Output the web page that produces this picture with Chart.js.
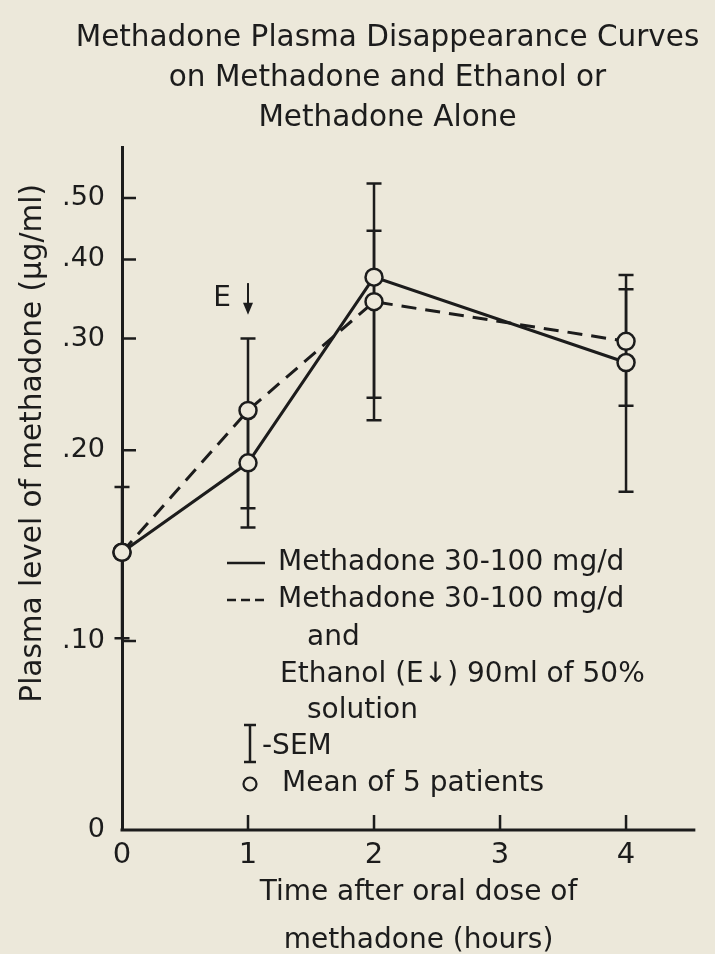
<!DOCTYPE html>
<html>
<head>
<meta charset="utf-8">
<script src="https://cdn.jsdelivr.net/npm/chart.js@4.4.1/dist/chart.umd.min.js"></script>
<style>
  html, body { margin: 0; padding: 0; background: #ece8da; }
  #wrap { width: 715px; height: 954px; }
</style>
</head>
<body>
<div id="wrap"><canvas id="chart"></canvas></div>
<script>
// hours after the oral dose
const hours = [0, 1, 2, 4];
// methadone alone (solid line), mean and SEM in ug/ml
const aloneMean = [0.138, 0.191, 0.375, 0.275];
const aloneSem = [null, 0.040, 0.152, 0.103];
// methadone + ethanol (dashed line)
const ethanolMean = [0.138, 0.231, 0.343, 0.297];
const ethanolSem = [0.037, 0.069, 0.101, 0.062];

const yTicks = [0.1, 0.2, 0.3, 0.4, 0.5];
const yTickLabels = ['.10', '.20', '.30', '.40', '.50'];
const xTicks = [0, 1, 2, 3, 4];
// the log axis is cut off here and labelled "0"
const yMin = 0.0503;
const yMax = 0.601;
// the drawn time axis stops a bit past 4 h
const xAxisEnd = 4.55;
const xMax = 4.706;
// ethanol given at 1 h (E arrow), drawn between these levels
const ethanolArrow = { hour: 1, from: 0.367, to: 0.327 };

const INK = '#1c1c1c';
const PAPER = '#ece8da';
const FONT = '"DejaVu Sans", sans-serif';

const toPoints = (ys) => ys.map((v, i) => ({ x: hours[i], y: v }));

const errorBars = {
    id: 'errorBars',
    beforeDatasetsDraw(chart) {
        const { ctx, scales: { x, y } } = chart;
        ctx.save();
        ctx.strokeStyle = INK;
        ctx.lineWidth = 2.5;
        chart.data.datasets.forEach(ds => {
            ds.sem.forEach((s, i) => {
                if (s == null) return;
                const m = ds.data[i].y;
                const px = x.getPixelForValue(ds.data[i].x);
                const top = y.getPixelForValue(m + s);
                const bot = y.getPixelForValue(m - s);
                ctx.beginPath();
                ctx.moveTo(px, top); ctx.lineTo(px, bot);
                ctx.moveTo(px - 7.5, top); ctx.lineTo(px + 7.5, top);
                ctx.moveTo(px - 7.5, bot); ctx.lineTo(px + 7.5, bot);
                ctx.stroke();
            });
        });
        ctx.restore();
    }
};

// time axis line, inward tick marks and the E arrow
const axisMarks = {
    id: 'axisMarks',
    afterDraw(chart) {
        const { ctx, chartArea, scales: { x, y } } = chart;
        ctx.save();
        ctx.strokeStyle = INK;
        ctx.lineWidth = 3;
        ctx.beginPath();
        ctx.moveTo(x.getPixelForValue(0) - 1.5, chartArea.bottom);
        ctx.lineTo(x.getPixelForValue(xAxisEnd), chartArea.bottom);
        ctx.stroke();

        ctx.lineWidth = 2.5;
        ctx.beginPath();
        yTicks.forEach(v => {
            const py = y.getPixelForValue(v);
            ctx.moveTo(chartArea.left, py);
            ctx.lineTo(chartArea.left + 14, py);
        });
        xTicks.slice(1).forEach(v => {
            const px = x.getPixelForValue(v);
            ctx.moveTo(px, chartArea.bottom);
            ctx.lineTo(px, chartArea.bottom - 15);
        });
        ctx.stroke();

        const ax = x.getPixelForValue(ethanolArrow.hour);
        const a0 = y.getPixelForValue(ethanolArrow.from);
        const a1 = y.getPixelForValue(ethanolArrow.to);
        ctx.lineWidth = 2;
        ctx.beginPath();
        ctx.moveTo(ax, a0);
        ctx.lineTo(ax, a1 - 10);
        ctx.stroke();
        ctx.fillStyle = INK;
        ctx.beginPath();
        ctx.moveTo(ax - 5, a1 - 12);
        ctx.lineTo(ax + 5, a1 - 12);
        ctx.lineTo(ax, a1);
        ctx.closePath();
        ctx.fill();
        ctx.font = '28px ' + FONT;
        ctx.textAlign = 'center';
        ctx.textBaseline = 'middle';
        ctx.fillText('E', ax - 26, (a0 + a1) / 2);
        ctx.restore();
    }
};

const notes = {
    id: 'notes',
    afterDraw(chart) {
        const { ctx, chartArea } = chart;
        ctx.save();
        ctx.fillStyle = INK;
        ctx.strokeStyle = INK;

        // y axis title, rotated
        ctx.save();
        ctx.translate(33, chartArea.top + 296);
        ctx.rotate(-Math.PI / 2);
        ctx.font = '29.5px ' + FONT;
        ctx.textAlign = 'center';
        ctx.textBaseline = 'middle';
        ctx.fillText('Plasma level of methadone (\u03bcg/ml)', 0, 0);
        ctx.restore();

        ctx.font = '28px ' + FONT;
        ctx.textBaseline = 'middle';
        ctx.textAlign = 'left';

        ctx.lineWidth = 2.5;
        ctx.beginPath();
        ctx.moveTo(227, 563); ctx.lineTo(265, 563);
        ctx.stroke();
        ctx.fillText('Methadone 30-100 mg/d', 278, 563);

        ctx.setLineDash([9, 5]);
        ctx.beginPath();
        ctx.moveTo(227, 600); ctx.lineTo(265, 600);
        ctx.stroke();
        ctx.setLineDash([]);
        ctx.fillText('Methadone 30-100 mg/d', 278, 600);
        ctx.fillText('and', 307, 638);
        ctx.fillText('Ethanol (E\u2193) 90ml of 50%', 280, 675);
        ctx.fillText('solution', 307, 711);

        ctx.beginPath();
        ctx.moveTo(250, 725); ctx.lineTo(250, 762);
        ctx.moveTo(244, 725); ctx.lineTo(256, 725);
        ctx.moveTo(244, 762); ctx.lineTo(256, 762);
        ctx.stroke();
        ctx.fillText('-SEM', 262, 747);

        ctx.lineWidth = 2.2;
        ctx.beginPath();
        ctx.arc(250, 784, 6.5, 0, Math.PI * 2);
        ctx.stroke();
        ctx.fillText('Mean of 5 patients', 282, 784);
        ctx.restore();
    }
};

new Chart(document.getElementById('chart'), {
    type: 'line',
    data: {
        datasets: [
            {
                label: 'Methadone 30-100 mg/d',
                data: toPoints(aloneMean),
                sem: aloneSem,
                borderColor: INK,
                borderWidth: 3,
                pointRadius: 8.5,
                pointBorderWidth: 2.5,
                pointBorderColor: INK,
                pointBackgroundColor: PAPER,
                clip: false
            },
            {
                label: 'Methadone 30-100 mg/d and Ethanol',
                data: toPoints(ethanolMean),
                sem: ethanolSem,
                borderColor: INK,
                borderWidth: 3,
                borderDash: [15, 9],
                pointRadius: 8.5,
                pointBorderWidth: 2.5,
                pointBorderColor: INK,
                pointBackgroundColor: PAPER,
                clip: false
            }
        ]
    },
    options: {
        responsive: true,
        maintainAspectRatio: false,
        animation: false,
        layout: { autoPadding: false, padding: { left: 60, right: 0, top: 0, bottom: 0 } },
        plugins: {
            legend: { display: false },
            tooltip: { enabled: false },
            title: {
                display: true,
                text: ['Methadone Plasma Disappearance Curves', 'on Methadone and Ethanol or', 'Methadone Alone'],
                color: INK,
                font: { family: FONT, size: 29.5, weight: 'normal', lineHeight: 1.36 },
                padding: { top: 18, bottom: 9 }
            }
        },
        scales: {
            x: {
                type: 'linear',
                min: 0,
                max: xMax,
                afterBuildTicks: s => { s.ticks = xTicks.map(v => ({ value: v })); },
                afterFit: s => { s.height = 124; },
                grid: { display: false, drawTicks: false },
                border: { display: false },
                ticks: {
                    color: INK,
                    font: { family: FONT, size: 29 },
                    padding: 8,
                    maxRotation: 0,
                    autoSkip: false,
                    callback: v => String(v)
                },
                title: {
                    display: true,
                    text: ['Time after oral dose of', 'methadone (hours)'],
                    color: INK,
                    font: { family: FONT, size: 28, lineHeight: 1.72 },
                    padding: { top: 0, bottom: -11 }
                }
            },
            y: {
                type: 'logarithmic',
                min: yMin,
                max: yMax,
                afterBuildTicks: s => { s.ticks = [yMin, ...yTicks].map(v => ({ value: v })); },
                afterFit: s => { s.width = 62; },
                grid: { display: false, drawTicks: false },
                border: { display: true, color: INK, width: 3 },
                ticks: {
                    color: INK,
                    font: { family: FONT, size: 27 },
                    padding: 17,
                    autoSkip: false,
                    callback: (v, i) => (i === 0 ? '0' : yTickLabels[i - 1])
                },
                title: { display: false }
            }
        }
    },
    plugins: [errorBars, axisMarks, notes]
});
</script>
</body>
</html>
